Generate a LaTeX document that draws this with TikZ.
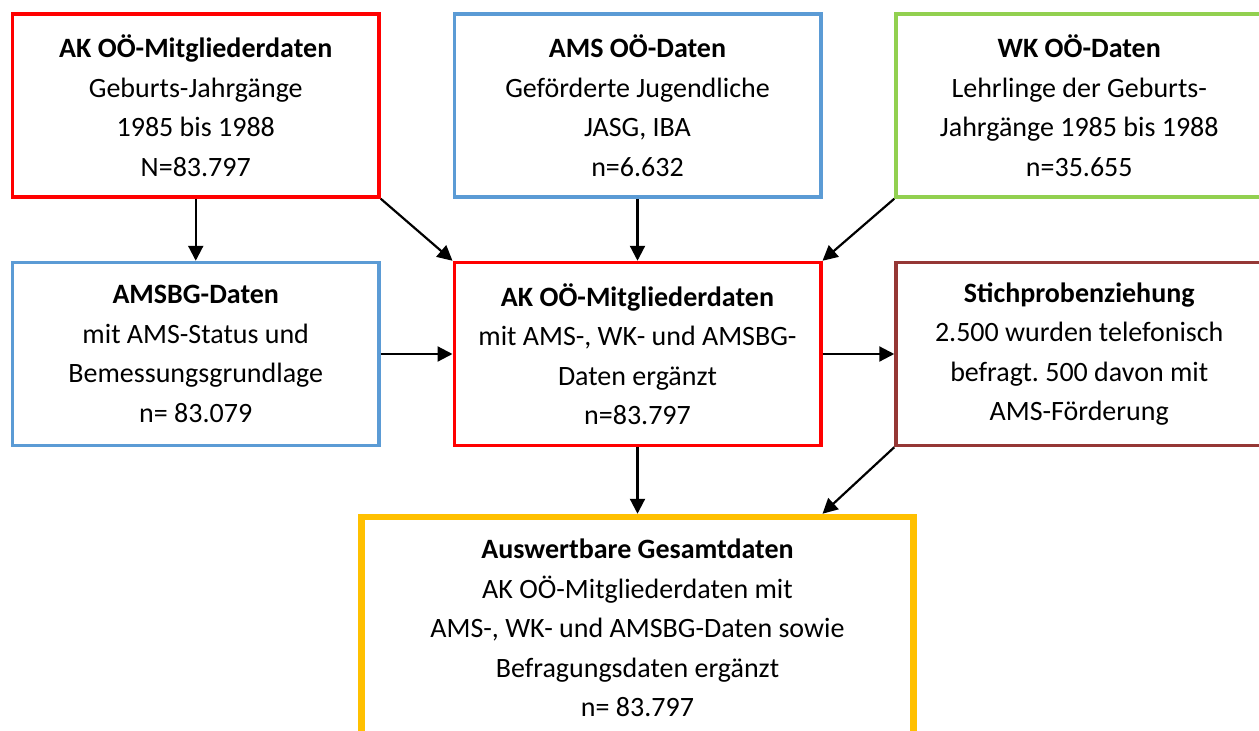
\documentclass[tikz,border=0pt]{standalone}
\usepackage{fontspec}
\setmainfont{Carlito}
\usetikzlibrary{positioning,arrows.meta}
\definecolor{akred}{HTML}{FF0000}
\definecolor{amsblue}{HTML}{5B9BD5}
\definecolor{wkgreen}{HTML}{92D050}
\definecolor{stichbrown}{HTML}{953735}
\definecolor{gesyellow}{HTML}{FFC000}
\frenchspacing

\begin{document}
\begin{tikzpicture}[node distance=62pt and 71.75pt]
      \tikzstyle{box}=[rectangle, draw, line width=3.5pt, minimum width=366.5pt, minimum height=183pt, align=center, font=\fontsize{28pt}{39.5pt}\selectfont]
      \tikzstyle{connect}=[-{Triangle[length=15pt,width=15pt]}, line width=2.2pt]

      \useasboundingbox (0,0) rectangle (1259pt,-731pt);

      \node[box, draw=amsblue] (ams) at (637.5pt,-105.5pt) {\textbf{AMS OÖ-Daten}\\Geförderte Jugendliche\\JASG, IBA\\n=6.632};
      \node[box, draw=akred] (akdaten) [left=of ams] {\textbf{AK OÖ-Mitgliederdaten}\\Geburts-Jahrgänge\\1985 bis 1988\\N=83.797};
      \node[box, draw=wkgreen] (wk) [right=of ams] {\textbf{WK OÖ-Daten}\\Lehrlinge der Geburts-\\Jahrgänge 1985 bis 1988\\n=35.655};
      \node[box, draw=akred] (merged) [below=of ams] {\textbf{AK OÖ-Mitgliederdaten}\\mit AMS-, WK- und AMSBG-\\Daten ergänzt\\n=83.797};
      \node[box, draw=amsblue] (amsbg) [left=of merged] {\textbf{AMSBG-Daten}\\mit AMS-Status und\\Bemessungsgrundlage\\n= 83.079};
      \node[box, draw=stichbrown] (stich) [right=of merged] {\textbf{Stichprobenziehung}\\2.500 wurden telefonisch\\befragt. 500 davon mit\\AMS-Förderung};
      \node[box, draw=gesyellow, line width=6.5pt, minimum width=551.7pt, minimum height=222pt] (gesamt) [below=66.5pt of merged] {\textbf{Auswertbare Gesamtdaten}\\AK OÖ-Mitgliederdaten mit\\AMS-, WK- und AMSBG-Daten sowie\\Befragungsdaten ergänzt\\n= 83.797};

      \draw[connect] (akdaten) -- (amsbg);
      \draw[connect] (akdaten.south east) -- (merged.north west);
      \draw[connect] (ams) -- (merged);
      \draw[connect] (wk.south west) -- (merged.north east);
      \draw[connect] (amsbg) -- (merged);
      \draw[connect] (merged) -- (stich);
      \draw[connect] (merged) -- (gesamt);
      \draw[connect] (stich.south west) -- (gesamt.north -| merged.east);
\end{tikzpicture}
\end{document}
